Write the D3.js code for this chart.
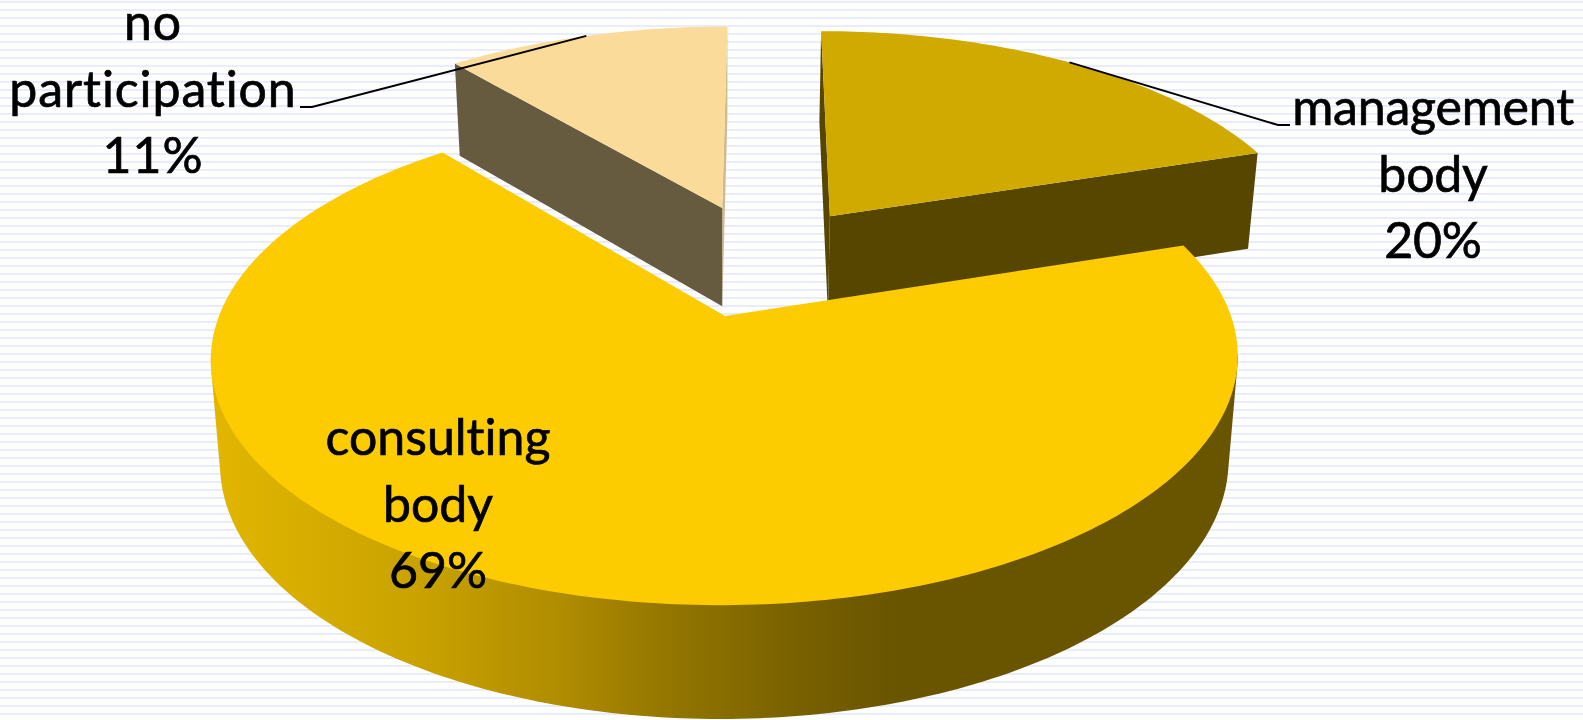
<!DOCTYPE html>
<html><head><meta charset="utf-8">
<script src="https://cdn.jsdelivr.net/npm/d3@7/dist/d3.min.js"></script>
<style>html,body{margin:0;padding:0;background:#fff;overflow:hidden}svg{display:block}</style>
</head><body><svg id="c" width="1583" height="720"></svg>
<script>
const categories = ["management body", "consulting body", "no participation"];
const shares = [20, 69, 11];
const labelLines = [["management","body","20%"],["consulting","body","69%"],["no","participation","11%"]];
const topColors = ["#d1aa00","#fccc00","#fadb9a"];
const wallColors = ["#574600","#695400","#665a3f"];
const sliverColors = ["#574600","#695400","#d0ba8c"];
const explodeU = [0.223,0,-0.006];
const explodeV = [-0.447,0,-0.487];
const sizeU = [1.012,1,1.025];
const sizeV = [1.04,1,1.03];
const shear = [0.015,0.008,0.012];
const labelCx = [1433,438,153];
const labelBase = [125,455,40];
const labelSpacing = [-0.2,0,0.9];
const elbow = [[1278,125,1290,125],null,[312,107,300,107]];

const W=1583,H=720, cx=725, cy=316, R=506, Ry=240, P=0.17, D=102.5, bottomScale=0.982, lineGap=66.5;
const svg=d3.select("#c");
svg.append("g").selectAll("rect").data(d3.range(0,H,8)).join("rect")
  .attr("x",0).attr("y",d=>d+1).attr("width",W).attr("height",2).attr("fill","#e8ecfc");

const defs=svg.append("defs");
const grad=defs.append("linearGradient").attr("id","wall").attr("gradientUnits","userSpaceOnUse")
  .attr("x1",212).attr("x2",1240).attr("y1",0).attr("y2",0);
[[212,"#e2b600"],[420,"#c9a200"],[560,"#b08c00"],[680,"#917400"],[800,"#786000"],[900,"#695400"],[1240,"#695400"]]
 .forEach(s=>grad.append("stop").attr("offset",(s[0]-212)/(1240-212)).attr("stop-color",s[1]));

function project(u,v,z){
  const w=1/(1-P*v), s=z?bottomScale:1;
  return [cx+R*u*w*s, cy+Ry*v*w*s+(z?D*Math.pow(w,0.8):0)];
}
const pie=d3.pie().value(d=>d).sort(null).startAngle(0).endAngle(2*Math.PI);
const arcs=pie(shares);
function disc(i,a,r){
  return [explodeU[i]+r*(sizeU[i]*Math.sin(a)+shear[i]*Math.cos(a)), explodeV[i]-r*sizeV[i]*Math.cos(a)];
}
const line=d3.line();
function ring(i,a0,a1,z){
  const n=Math.max(2,Math.ceil(Math.abs(a1-a0)*60));
  return d3.range(n+1).map(t=>{const a=a0+(a1-a0)*t/n, d=disc(i,a,1); return project(d[0],d[1],z);});
}
function radialWall(i,a){
  const p=disc(i,a,0), q=disc(i,a,1);
  return [project(p[0],p[1],0),project(q[0],q[1],0),project(q[0],q[1],1),project(p[0],p[1],1)];
}
const g=svg.append("g");
[2,0,1].forEach(i=>{
  const s=arcs[i];
  if(i===1){
    const front=ring(i,Math.PI*0.55,Math.PI*1.45,0).concat(ring(i,Math.PI*0.55,Math.PI*1.45,1));
    g.append("path").attr("d",line(d3.polygonHull(front))+"Z").attr("fill","url(#wall)");
  } else {
    g.append("path").attr("d",line(radialWall(i,i===0?s.startAngle:s.endAngle))+"Z").attr("fill",sliverColors[i]);
    g.append("path").attr("d",line(radialWall(i,i===0?s.endAngle:s.startAngle))+"Z").attr("fill",wallColors[i]);
  }
  const c=disc(i,0,0);
  g.append("path").attr("d",line([project(c[0],c[1],0)].concat(ring(i,s.startAngle,s.endAngle,0)))+"Z")
    .attr("fill",topColors[i]);
});
// leader lines
arcs.forEach((s,i)=>{
  if(!elbow[i]) return;
  const d=disc(i,(s.startAngle+s.endAngle)/2,1), p=project(d[0],d[1],0), e=elbow[i];
  svg.append("path").attr("d",line([p,[e[0],e[1]],[e[2],e[3]]])).attr("fill","none")
    .attr("stroke","#000").attr("stroke-width",2);
});
// labels
labelLines.forEach((ls,i)=>{
  ls.forEach((t,k)=>{
    svg.append("text").attr("x",labelCx[i]).attr("y",labelBase[i]+k*lineGap).attr("text-anchor","middle")
      .attr("font-family","'Comic Sans MS',Lato,sans-serif").attr("font-size",50)
      .style("font-variant-ligatures","none").style("letter-spacing",labelSpacing[i]+"px")
      .attr("fill","#000").attr("stroke","#000").attr("stroke-width",0.7).text(t);
  });
});
</script></body></html>
